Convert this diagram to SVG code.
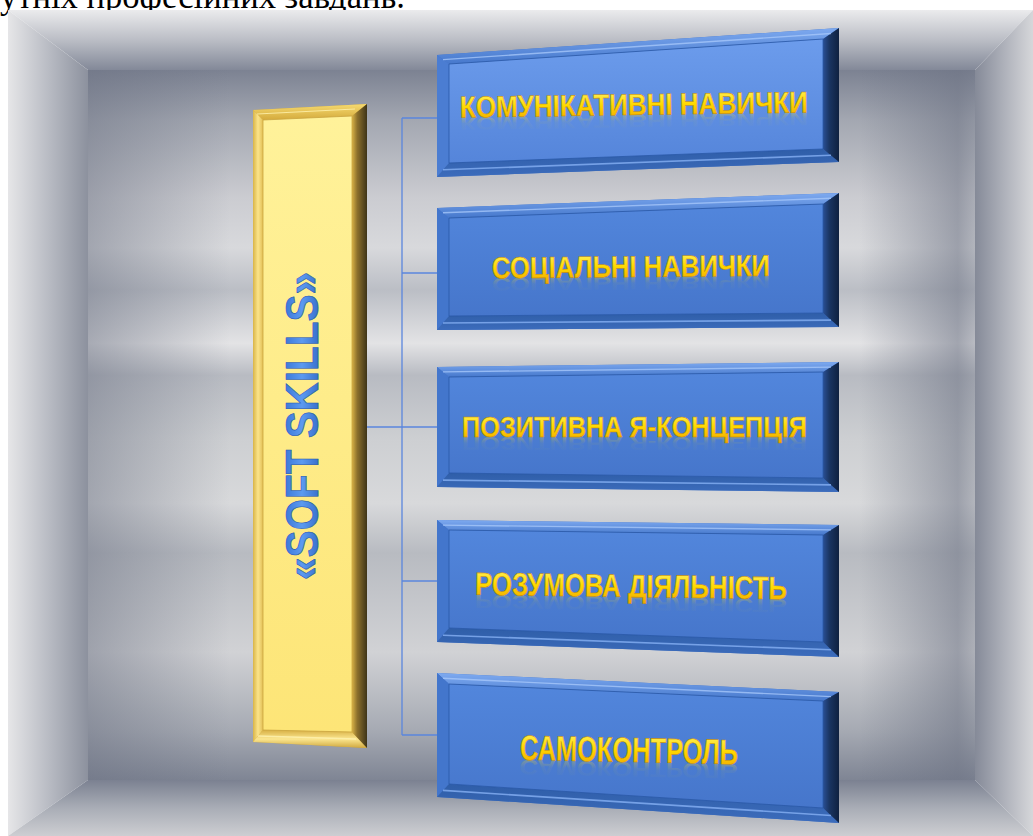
<svg xmlns="http://www.w3.org/2000/svg" width="1033" height="836" viewBox="0 0 1033 836">
<defs>
<linearGradient id="wTop" gradientUnits="userSpaceOnUse" x1="0" y1="10" x2="0" y2="72"><stop offset="0" stop-color="#ebebed"/><stop offset="0.5" stop-color="#b9bcc4"/><stop offset="1" stop-color="#7f8595"/></linearGradient>
<linearGradient id="wLeft" gradientUnits="userSpaceOnUse" x1="8" y1="0" x2="90" y2="0"><stop offset="0" stop-color="#e6e6e8"/><stop offset="0.5" stop-color="#b8bbc3"/><stop offset="1" stop-color="#8a8f9c"/></linearGradient>
<linearGradient id="wRight" gradientUnits="userSpaceOnUse" x1="975" y1="0" x2="1033" y2="0"><stop offset="0" stop-color="#858a98"/><stop offset="0.5" stop-color="#aeb1ba"/><stop offset="1" stop-color="#d6d7da"/></linearGradient>
<linearGradient id="wBot" gradientUnits="userSpaceOnUse" x1="0" y1="780" x2="0" y2="836"><stop offset="0" stop-color="#7b8191"/><stop offset="0.5" stop-color="#a9adb6"/><stop offset="1" stop-color="#cdced2"/></linearGradient>
<linearGradient id="wBack" gradientUnits="userSpaceOnUse" x1="0" y1="70" x2="0" y2="780">
<stop offset="0" stop-color="#7c8292"/>
<stop offset="0.07" stop-color="#a3a7b1"/>
<stop offset="0.18" stop-color="#cbccd1"/>
<stop offset="0.25" stop-color="#d8d9dc"/>
<stop offset="0.31" stop-color="#bbbec5"/>
<stop offset="0.385" stop-color="#e3e3e5"/>
<stop offset="0.43" stop-color="#b8bbc2"/>
<stop offset="0.52" stop-color="#cdcfd2"/>
<stop offset="0.61" stop-color="#d8d9db"/>
<stop offset="0.68" stop-color="#b8bbc1"/>
<stop offset="0.82" stop-color="#d1d2d5"/>
<stop offset="0.93" stop-color="#a6aab3"/>
<stop offset="1" stop-color="#7f8594"/>
</linearGradient>
<linearGradient id="wShadeL" gradientUnits="userSpaceOnUse" x1="88" y1="0" x2="230" y2="0"><stop offset="0" stop-color="#6c7283" stop-opacity="0.5"/><stop offset="1" stop-color="#6c7283" stop-opacity="0"/></linearGradient>
<linearGradient id="wShadeR" gradientUnits="userSpaceOnUse" x1="860" y1="0" x2="975" y2="0"><stop offset="0" stop-color="#6c7283" stop-opacity="0"/><stop offset="0.85" stop-color="#6c7283" stop-opacity="0.55"/><stop offset="1" stop-color="#6c7283" stop-opacity="0.35"/></linearGradient>

<linearGradient id="face1" x1="0" y1="0" x2="0" y2="1"><stop offset="0" stop-color="#6c9cec"/><stop offset="1" stop-color="#5585da"/></linearGradient>
<linearGradient id="face" x1="0" y1="0" x2="0" y2="1"><stop offset="0" stop-color="#5286dc"/><stop offset="1" stop-color="#4676cb"/></linearGradient>
<linearGradient id="bTop" x1="0" y1="0" x2="0" y2="1"><stop offset="0" stop-color="#7eaaf0"/><stop offset="1" stop-color="#4678cc"/></linearGradient>
<linearGradient id="bRight" x1="0" y1="0" x2="1" y2="0"><stop offset="0" stop-color="#2a5096"/><stop offset="0.4" stop-color="#1a3562"/><stop offset="1" stop-color="#0f2140"/></linearGradient>
<linearGradient id="bBot" x1="0" y1="0" x2="0" y2="1"><stop offset="0" stop-color="#2f5ea8"/><stop offset="1" stop-color="#3c6cbc"/></linearGradient>

<linearGradient id="yFace" x1="0" y1="0" x2="0" y2="1"><stop offset="0" stop-color="#fff29a"/><stop offset="1" stop-color="#fde577"/></linearGradient>
<linearGradient id="yTop" x1="0" y1="0" x2="0" y2="1"><stop offset="0" stop-color="#f6da70"/><stop offset="1" stop-color="#d4aa3c"/></linearGradient>
<linearGradient id="yLeft" x1="0" y1="0" x2="1" y2="0"><stop offset="0" stop-color="#d9b448"/><stop offset="0.5" stop-color="#fbe48a"/><stop offset="1" stop-color="#e2bf55"/></linearGradient>
<linearGradient id="yRight" x1="0" y1="0" x2="1" y2="0"><stop offset="0" stop-color="#d8b246"/><stop offset="0.35" stop-color="#8c702c"/><stop offset="1" stop-color="#3e3418"/></linearGradient>
<linearGradient id="yBot" x1="0" y1="0" x2="0" y2="1"><stop offset="0" stop-color="#d8b044"/><stop offset="0.5" stop-color="#fbe690"/><stop offset="1" stop-color="#d0a83e"/></linearGradient>

<linearGradient id="gold" x1="0" y1="0" x2="0" y2="1"><stop offset="0" stop-color="#fff570"/><stop offset="0.5" stop-color="#ffd900"/><stop offset="1" stop-color="#f0a400"/></linearGradient>
<linearGradient id="goldRefl" x1="0" y1="0" x2="0" y2="1"><stop offset="0" stop-color="#ffd900" stop-opacity="0"/><stop offset="0.5" stop-color="#ffd900" stop-opacity="0.05"/><stop offset="1" stop-color="#ffe040" stop-opacity="0.4"/></linearGradient>
<linearGradient id="blueTxt" x1="0" y1="0" x2="0" y2="1"><stop offset="0" stop-color="#2b66cc"/><stop offset="0.5" stop-color="#5c9af0"/><stop offset="1" stop-color="#2458b8"/></linearGradient>
</defs>
<style>
.conn{stroke:#5a86de;stroke-width:1.3;fill:none}
.lbl{font-family:"Liberation Sans","Open Sans",sans-serif;font-weight:bold;text-anchor:middle;fill:url(#gold);stroke:#c88a00;stroke-width:0.5}
.refl{font-family:"Liberation Sans","Open Sans",sans-serif;font-weight:bold;text-anchor:middle;fill:url(#goldRefl)}
.bl{fill:#4272c6}
.hl{stroke:#a9c9fb;stroke-width:1.4;fill:none;opacity:0.75}
.hlb{stroke:#86b0f4;stroke-width:1.6;fill:none;opacity:0.8}
.fe{stroke:#2a58a6;stroke-width:0.8}
</style>
<rect width="1033" height="836" fill="#ffffff"/>
<text x="0" y="7.5" font-family="'Liberation Serif','Times New Roman',serif" font-size="35" textLength="405" lengthAdjust="spacingAndGlyphs" fill="#000">утніх професійних завдань.</text>

<g id="room">
<rect x="88" y="70" width="887" height="710" fill="url(#wBack)"/>
<rect x="88" y="70" width="887" height="710" fill="url(#wShadeL)"/>
<rect x="88" y="70" width="887" height="710" fill="url(#wShadeR)"/>
<polygon points="8,10 1033,10 975,70 88,70" fill="url(#wTop)"/>
<polygon points="8,10 88,70 88,780 8,836" fill="url(#wLeft)"/>
<polygon points="1033,10 1033,836 975,780 975,70" fill="url(#wRight)"/>
<polygon points="8,836 88,780 975,780 1033,836" fill="url(#wBot)"/>
</g>

<g id="connectors">
<line class="conn" x1="367" y1="427" x2="437" y2="427"/>
<line class="conn" x1="402" y1="118" x2="402" y2="735"/>
<line class="conn" x1="402" y1="118" x2="437" y2="118"/>
<line class="conn" x1="402" y1="273" x2="437" y2="273"/>
<line class="conn" x1="402" y1="581" x2="437" y2="581"/>
<line class="conn" x1="402" y1="735" x2="437" y2="735"/>
</g>

<g id="soft-skills">
<polygon points="253,110 367,104 367,748 253,742" fill="#c9a23e"/>
<polygon points="253,110 367,104 352,116 263,120" fill="url(#yTop)"/>
<polygon points="253,110 263,120 263,730 253,742" fill="url(#yLeft)"/>
<polygon points="253,742 263,730 352,732 367,748" fill="url(#yBot)"/>
<polygon points="367,104 367,748 352,732 352,116" fill="url(#yRight)"/>
<polygon points="263,120 352,116 352,732 263,730" fill="url(#yFace)" stroke="#caa440" stroke-width="0.8"/>
<line x1="257" y1="114" x2="355" y2="109" stroke="#fff3b0" stroke-width="1.2" opacity="0.8"/>
<line x1="258" y1="736" x2="356" y2="739" stroke="#fff3b0" stroke-width="1.4" opacity="0.8"/>
<text transform="translate(318,426) rotate(-90)" x="0" y="0" font-family="'Liberation Sans','Open Sans',sans-serif" font-weight="bold" font-size="46" text-anchor="middle" textLength="308" lengthAdjust="spacingAndGlyphs" fill="url(#blueTxt)" stroke="#1d52ac" stroke-width="0.6">«SOFT SKILLS»</text>
</g>

<g id="n1">
<polygon class="bl" points="437,55 839,28 839,162 437,177"/>
<polygon points="437,55 839,28 823,39 449,64" fill="url(#bTop)"/>
<polygon points="437,55 449,64 449,163 437,177" fill="#4b7dd2"/>
<polygon points="437,177 449,163 823,149 839,162" fill="url(#bBot)"/>
<polygon points="839,28 839,162 823,149 823,39" fill="url(#bRight)"/>
<polygon class="fe" points="449,64 823,39 823,149 449,163" fill="url(#face1)"/>
<line class="hl" x1="443" y1="59.6" x2="831" y2="33.5"/>
<line class="hlb" x1="443" y1="169.8" x2="831" y2="155.3"/>
<g transform="rotate(-0.8 634 112)">
<text class="refl" x="634" y="115" transform="translate(0,115) scale(1,-0.6) translate(0,-115)" font-size="30" textLength="348" lengthAdjust="spacingAndGlyphs">КОМУНІКАТИВНІ НАВИЧКИ</text>
<text class="lbl" x="634" y="115" font-size="30" textLength="348" lengthAdjust="spacingAndGlyphs">КОМУНІКАТИВНІ НАВИЧКИ</text>
</g>
</g>

<g id="n2">
<polygon class="bl" points="437,208 839,193 839,327 437,330"/>
<polygon points="437,208 839,193 823,204 449,218" fill="url(#bTop)"/>
<polygon points="437,208 449,218 449,316 437,330" fill="#4376cc"/>
<polygon points="437,330 449,316 823,313 839,327" fill="url(#bBot)"/>
<polygon points="839,193 839,327 823,313 823,204" fill="url(#bRight)"/>
<polygon class="fe" points="449,218 823,204 823,313 449,316" fill="url(#face)"/>
<line class="hl" x1="443" y1="212.8" x2="831" y2="198.3"/>
<line class="hlb" x1="443" y1="323" x2="831" y2="320.1"/>
<g transform="rotate(-0.5 631 270)">
<text class="refl" x="631" y="277" transform="translate(0,277) scale(1,-0.6) translate(0,-277)" font-size="30" textLength="278" lengthAdjust="spacingAndGlyphs">СОЦІАЛЬНІ НАВИЧКИ</text>
<text class="lbl" x="631" y="277" font-size="30" textLength="278" lengthAdjust="spacingAndGlyphs">СОЦІАЛЬНІ НАВИЧКИ</text>
</g>
</g>

<g id="n3">
<polygon class="bl" points="437,367 839,362 839,492 437,487"/>
<polygon points="437,367 839,362 823,372 449,377" fill="url(#bTop)"/>
<polygon points="437,367 449,377 449,473 437,487" fill="#4376cc"/>
<polygon points="437,487 449,473 823,478 839,492" fill="url(#bBot)"/>
<polygon points="839,362 839,492 823,478 823,372" fill="url(#bRight)"/>
<polygon class="fe" points="449,377 823,372 823,478 449,473" fill="url(#face)"/>
<line class="hl" x1="443" y1="371.9" x2="831" y2="367.1"/>
<line class="hlb" x1="443" y1="480.1" x2="831" y2="484.9"/>
<text class="refl" x="634.5" y="437" transform="translate(0,437) scale(1,-0.6) translate(0,-437)" font-size="30" textLength="345" lengthAdjust="spacingAndGlyphs">ПОЗИТИВНА Я-КОНЦЕПЦІЯ</text>
<text class="lbl" x="634.5" y="437" font-size="30" textLength="345" lengthAdjust="spacingAndGlyphs">ПОЗИТИВНА Я-КОНЦЕПЦІЯ</text>
</g>

<g id="n4">
<polygon class="bl" points="437,520 839,525 839,657 437,642"/>
<polygon points="437,520 839,525 823,535 449,530" fill="url(#bTop)"/>
<polygon points="437,520 449,530 449,628 437,642" fill="#4376cc"/>
<polygon points="437,642 449,628 823,642 839,657" fill="url(#bBot)"/>
<polygon points="839,525 839,657 823,642 823,535" fill="url(#bRight)"/>
<polygon class="fe" points="449,530 823,535 823,642 449,628" fill="url(#face)"/>
<line class="hl" x1="443" y1="525.1" x2="831" y2="529.9"/>
<line class="hlb" x1="443" y1="635.2" x2="831" y2="649.7"/>
<g transform="rotate(0.8 631 590)">
<text class="refl" x="631" y="597" transform="translate(0,597) scale(1,-0.6) translate(0,-597)" font-size="32" textLength="312" lengthAdjust="spacingAndGlyphs">РОЗУМОВА ДІЯЛЬНІСТЬ</text>
<text class="lbl" x="631" y="597" font-size="32" textLength="312" lengthAdjust="spacingAndGlyphs">РОЗУМОВА ДІЯЛЬНІСТЬ</text>
</g>
</g>

<g id="n5">
<polygon class="bl" points="437,673 839,692 839,823 437,797"/>
<polygon points="437,673 839,692 823,701 449,684" fill="url(#bTop)"/>
<polygon points="437,673 449,684 449,784 437,797" fill="#4376cc"/>
<polygon points="437,797 449,784 823,808 839,823" fill="url(#bBot)"/>
<polygon points="839,692 839,823 823,808 823,701" fill="url(#bRight)"/>
<polygon class="fe" points="449,684 823,701 823,808 449,784" fill="url(#face)"/>
<line class="hl" x1="443" y1="678.3" x2="831" y2="696.6"/>
<line class="hlb" x1="443" y1="790.4" x2="831" y2="815.5"/>
<g transform="rotate(1.2 629 750)">
<text class="refl" x="629" y="762" transform="translate(0,762) scale(1,-0.6) translate(0,-762)" font-size="35" textLength="218" lengthAdjust="spacingAndGlyphs">САМОКОНТРОЛЬ</text>
<text class="lbl" x="629" y="762" font-size="35" textLength="218" lengthAdjust="spacingAndGlyphs">САМОКОНТРОЛЬ</text>
</g>
</g>
</svg>
